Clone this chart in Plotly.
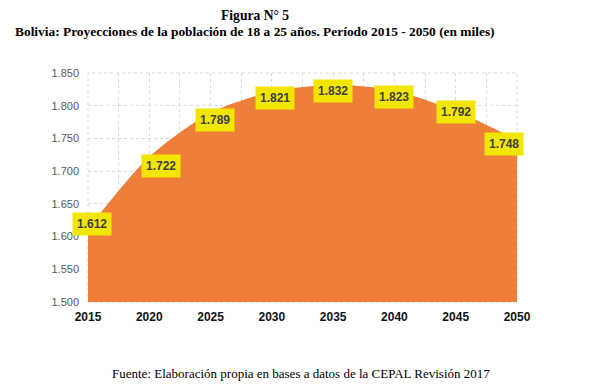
import plotly.graph_objects as go

years = [2015, 2020, 2025, 2030, 2035, 2040, 2045, 2050]
values = [1.612, 1.722, 1.789, 1.821, 1.832, 1.823, 1.792, 1.748]
labels = ["1.612", "1.722", "1.789", "1.821", "1.832", "1.823", "1.792", "1.748"]
y_ticks = [1.50, 1.55, 1.60, 1.65, 1.70, 1.75, 1.80, 1.85]
y_tick_text = ["1.500", "1.550", "1.600", "1.650", "1.700", "1.750", "1.800", "1.850"]

# label nudges (style only)
label_xshift = [4, 12, 4, 3, 0, 0, 0, -13]
label_yshift = [5, -9, -7, -6, -6, -6, -1, -4]

# page body has an 8px default margin; figure is sized to fill the window
W, H = 588, 383
L, R, T, B = 80, 79, 65, 89
plot_w = W - L - R

fig = go.Figure()
fig.add_trace(go.Scatter(
    x=years, y=values, mode="lines", line=dict(shape="spline", smoothing=0.8, width=0, color="#EE7F3A"),
    fill="tozeroy", fillcolor="#EE7F3A", hoverinfo="skip", showlegend=False,
))

for x, y, t, dx, dy in zip(years, values, labels, label_xshift, label_yshift):
    fig.add_annotation(x=x, y=y, text="<b>" + t + "</b>", showarrow=False,
                       xshift=dx, yshift=dy, bgcolor="#F2E600", borderpad=4,
                       font=dict(family="Liberation Sans", size=12, color="#404040"))

fig.update_layout(
    width=W, height=H,
    margin=dict(l=L, r=R, t=T, b=B),
    paper_bgcolor="white", plot_bgcolor="white",
    xaxis=dict(range=[2015, 2050], tickvals=years, ticktext=[str(y) for y in years],
               tickfont=dict(family="Liberation Sans", size=12, color="#111111", weight="bold"),
               showgrid=True, gridcolor="#D9D9D9", griddash="dot", gridwidth=1,
               minor=dict(dtick=2.5, showgrid=True, gridcolor="#D9D9D9", griddash="dot"),
               ticks="", zeroline=False, showline=False, ticklabelstandoff=6),
    yaxis=dict(range=[1.5, 1.85], tickvals=y_ticks, ticktext=y_tick_text,
               tickfont=dict(family="Liberation Sans", size=11, color="#595959"),
               showgrid=True, gridcolor="#D9D9D9", griddash="dot", gridwidth=1,
               ticks="", zeroline=False, showline=False, ticklabelstandoff=8),
    shapes=[dict(type="rect", xref="paper", yref="paper", x0=0, x1=1, y0=0, y1=1,
                 line=dict(color="#D9D9D9", width=1, dash="dot"), layer="below")],
)

cx_title = (255 - 8 - L) / plot_w
cx_foot = (301 - 8 - L) / plot_w
fig.add_annotation(xref="paper", yref="paper", x=cx_title, y=1, yshift=58, yanchor="middle",
                   text="<b>Figura N° 5</b>", showarrow=False,
                   font=dict(family="Liberation Serif", size=13.6, color="black"))
fig.add_annotation(xref="paper", yref="paper", x=cx_title, y=1, yshift=42, yanchor="middle",
                   text="<b>Bolivia: Proyecciones de la población de 18 a 25 años. Período 2015 - 2050 (en miles)</b>",
                   showarrow=False, font=dict(family="Liberation Serif", size=13.4, color="black"))
fig.add_annotation(xref="paper", yref="paper", x=cx_foot, y=0, yshift=-71, yanchor="middle",
                   text="Fuente: Elaboración propia en bases a datos de la CEPAL Revisión 2017",
                   showarrow=False, font=dict(family="Liberation Serif", size=13, color="black"))

fig.write_html("out.html")
